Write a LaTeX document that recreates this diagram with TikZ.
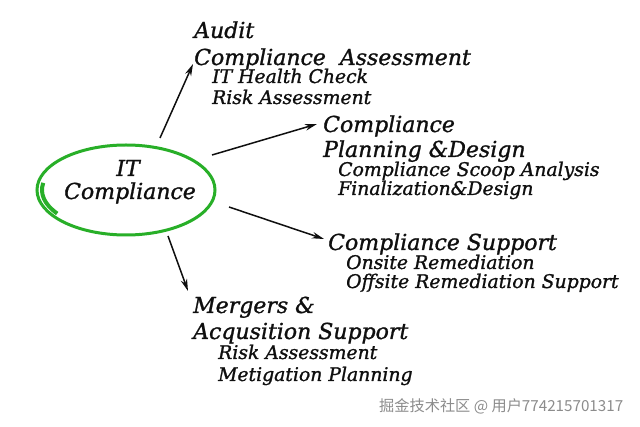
\documentclass[tikz,border=0pt]{standalone}
\usepackage{fontspec}
\setmainfont{DejaVu Serif}
\newfontfamily\handfont[FakeBold=1.2]{DejaVu Serif}
\newfontfamily\cjkfont{Noto Sans CJK SC}
\usetikzlibrary{arrows.meta,shapes.geometric}
\definecolor{ringgreen}{RGB}{40,175,40}
\definecolor{inkc}{RGB}{15,15,15}
\definecolor{wmgray}{RGB}{140,140,140}
\tikzset{
  mainlbl/.style={anchor=base west, inner sep=0pt, font=\handfont\fontsize{22}{26}\selectfont\itshape, text=inkc},
  sublbl/.style={anchor=base west, inner sep=0pt, font=\handfont\fontsize{18.8}{22}\selectfont\itshape, text=inkc},
  hublbl/.style={anchor=base, inner sep=0pt, font=\handfont\fontsize{22}{26}\selectfont\itshape, text=inkc},
  conn/.style={line width=1.5pt, draw=inkc, -{Stealth[length=12pt,width=6.5pt]}},
  ring/.style={ellipse, draw=ringgreen, line width=3pt, minimum width=178pt, minimum height=90pt, inner sep=0pt},
}
\begin{document}
\begin{tikzpicture}[x=1pt,y=-1pt]
\fill[white] (0,0) rectangle (640,427);
\useasboundingbox (0,0) rectangle (640,427);

% hub
\node[ring] (itc) at (126,190) {};
\draw[ringgreen, line width=4pt] (126,190) ++(145:84 and 41) arc[start angle=145, end angle=190, x radius=84, y radius=41];
\node[hublbl] (itl1) at (128,176) {IT};
\node[hublbl] (itl2) at (130,199) {Compliance};

% Audit
\node[mainlbl] (au1) at (194,38) {Audit};
\node[mainlbl] (au2) at (194,65) {Compliance\ \ Assessment};
\node[sublbl] (au3) at (212,83) {IT Health Check};
\node[sublbl] (au4) at (212,104) {Risk Assessment};

% Planning
\node[mainlbl] (pl1) at (323,132) {Compliance};
\node[mainlbl] (pl2) at (323,157) {Planning \&Design};
\node[sublbl] (pl3) at (338,176) {Compliance Scoop Analysis};
\node[sublbl] (pl4) at (338,195) {Finalization\&Design};

% Support
\node[mainlbl] (su1) at (328,250) {Compliance Support};
\node[sublbl] (su2) at (346,269) {Onsite Remediation};
\node[sublbl] (su3) at (346,288) {Offsite Remediation Support};

% Mergers
\node[mainlbl] (me1) at (193,313) {Mergers \&};
\node[mainlbl] (me2) at (193,339) {Acqusition Support};
\node[sublbl] (me3) at (218,359) {Risk Assessment};
\node[sublbl] (me4) at (218,381) {Metigation Planning};

% connectors
\coordinate (s1) at (160,138); \coordinate (e1) at (193,64);
\coordinate (s2) at (212,155); \coordinate (e2) at (317,124);
\coordinate (s3) at (229,207); \coordinate (e3) at (324,239);
\coordinate (s4) at (168,236); \coordinate (e4) at (188,291);
\draw[conn] (s1) -- (e1);
\draw[conn] (s2) -- (e2);
\draw[conn] (s3) -- (e3);
\draw[conn] (s4) -- (e4);

% watermark
\node[anchor=base west, inner sep=0pt, text=wmgray, font=\cjkfont\fontsize{15.2}{17}\selectfont] (wm) at (379,412) {掘金技术社区 @ 用户774215701317};
\end{tikzpicture}
\end{document}
